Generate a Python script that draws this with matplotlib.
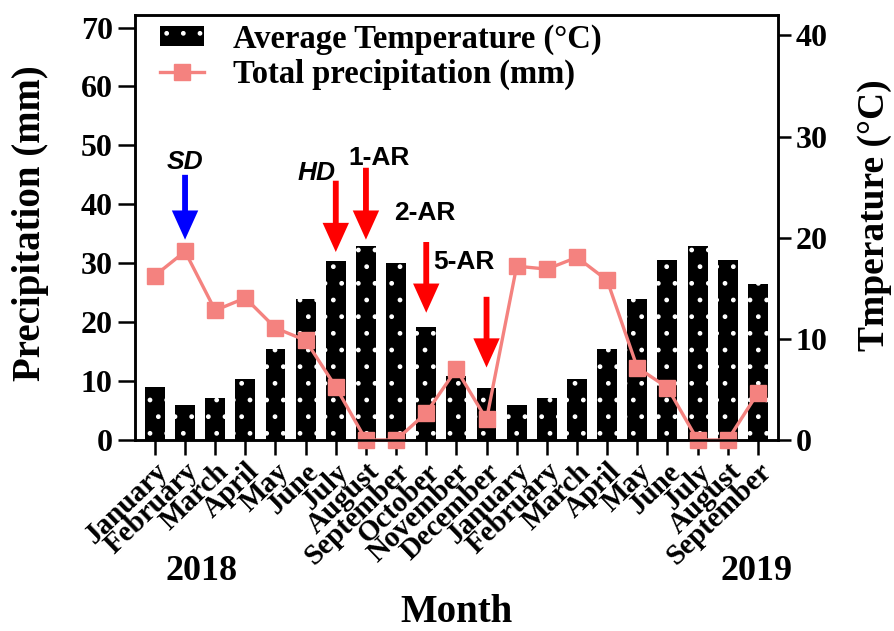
import matplotlib
matplotlib.use("Agg")
import matplotlib.pyplot as plt
import matplotlib.transforms as mtransforms
import numpy as np

months = ["January", "February", "March", "April", "May", "June", "July",
          "August", "September", "October", "November", "December",
          "January", "February", "March", "April", "May", "June", "July",
          "August", "September"]

# bar heights read against the left axis scale
avg_temp = [9.0, 6.0, 7.2, 10.4, 15.4, 24.0, 30.4, 33.0, 30.0, 19.1, 10.8, 8.9,
            6.0, 7.2, 10.4, 15.4, 24.0, 30.5, 33.0, 30.5, 26.5]
precip = [27.9, 32.0, 22.0, 24.1, 19.0, 16.9, 9.0, 0.0, 0.0, 4.6, 12.0, 3.5,
          29.5, 29.0, 31.0, 27.1, 12.3, 8.9, 0.0, 0.0, 8.0]

# (label, month index, arrow top, arrow tip, colour)
events = [("SD", 1, 45.0, 34.0, "#0000ff"),
          ("HD", 6, 44.0, 31.9, "#ff0000"),
          ("1-AR", 7, 46.2, 34.0, "#ff0000"),
          ("2-AR", 9, 33.6, 21.6, "#ff0000"),
          ("5-AR", 11, 24.3, 12.3, "#ff0000")]
# where the labels sit (x, y) in data units
label_pos = [(1.0, 47.2), (5.35, 45.3), (7.45, 47.9), (8.95, 38.5), (10.25, 30.2)]

plt.rcParams["font.family"] = ["Liberation Serif", "DejaVu Serif"]
plt.rcParams["font.weight"] = "bold"
plt.rcParams["axes.labelweight"] = "bold"
plt.rcParams["hatch.linewidth"] = 1.0

fig = plt.figure(figsize=(8.94, 6.31), dpi=100)
ax = fig.add_axes([0.151, 0.3027, 0.719, 0.6733])
ax2 = ax.twinx()

x = np.arange(len(months))
bars = ax.bar(x, avg_temp, width=0.66, color="black", edgecolor="white",
              linewidth=0, hatch=".", label="Average Temperature (°C)", zorder=2)
line, = ax.plot(x, precip, color="#f4827f", lw=2.4, marker="s", ms=11.5,
                label="Total precipitation (mm)", zorder=5, clip_on=False)

for (name, i, y0, y1, col), (tx, ty) in zip(events, label_pos):
    ax.annotate("", xy=(i, y1), xytext=(i, y0),
                arrowprops=dict(facecolor=col, edgecolor="none", width=4.2,
                                headwidth=19, headlength=21, shrink=0))
    style = "italic" if name in ("SD", "HD") else "normal"
    ax.text(tx, ty, name, ha="center", va="center", fontsize=19,
            family=["Liberation Sans", "DejaVu Sans"], fontweight="bold",
            style=style)

ax.set_xlim(-0.66, len(months) - 1 + 0.66)
ax.set_ylim(0, 72.1)
ax.set_yticks(range(0, 71, 10))
ax2.set_ylim(0, 42.0)
ax2.set_yticks(range(0, 41, 10))

ax.set_xticks(x)
ax.set_xticklabels(months, rotation=44, ha="right", rotation_mode="anchor",
                   fontsize=21)
# labels sit a little to the right of their ticks in the original
shift = mtransforms.ScaledTranslation(0.07, -0.03, fig.dpi_scale_trans)
for lab in ax.get_xticklabels():
    lab.set_transform(lab.get_transform() + shift)

ax.tick_params(axis="x", length=11, width=1.8, pad=2)
ax.tick_params(axis="y", length=12, width=1.8, labelsize=23, pad=4)
ax2.tick_params(axis="y", length=9, width=1.8, labelsize=23, pad=4)
for a in (ax, ax2):
    for s in a.spines.values():
        s.set_linewidth(1.8)

ax.set_ylabel("Precipitation (mm)", fontsize=28)
ax.yaxis.set_label_coords(-0.134, 0.51)
ax2.set_ylabel("Tmperature (°C)", fontsize=27)
ax2.yaxis.set_label_coords(1.124, 0.53)

fig.text(202 / 894, 1 - 571 / 631, "2018", ha="center", va="center", fontsize=26)
fig.text(757 / 894, 1 - 571 / 631, "2019", ha="center", va="center", fontsize=26)
fig.text(457 / 894, 1 - 613 / 631, "Month", ha="center", va="center", fontsize=28)

ax.legend([bars, line], [bars.get_label(), line.get_label()],
          loc="upper left", bbox_to_anchor=(0.013, 1.018), frameon=False,
          fontsize=23.5, handlelength=1.35, handleheight=0.55, handletextpad=0.9,
          labelspacing=0.1, borderaxespad=0.1)

fig.savefig("out.png", dpi=100)
